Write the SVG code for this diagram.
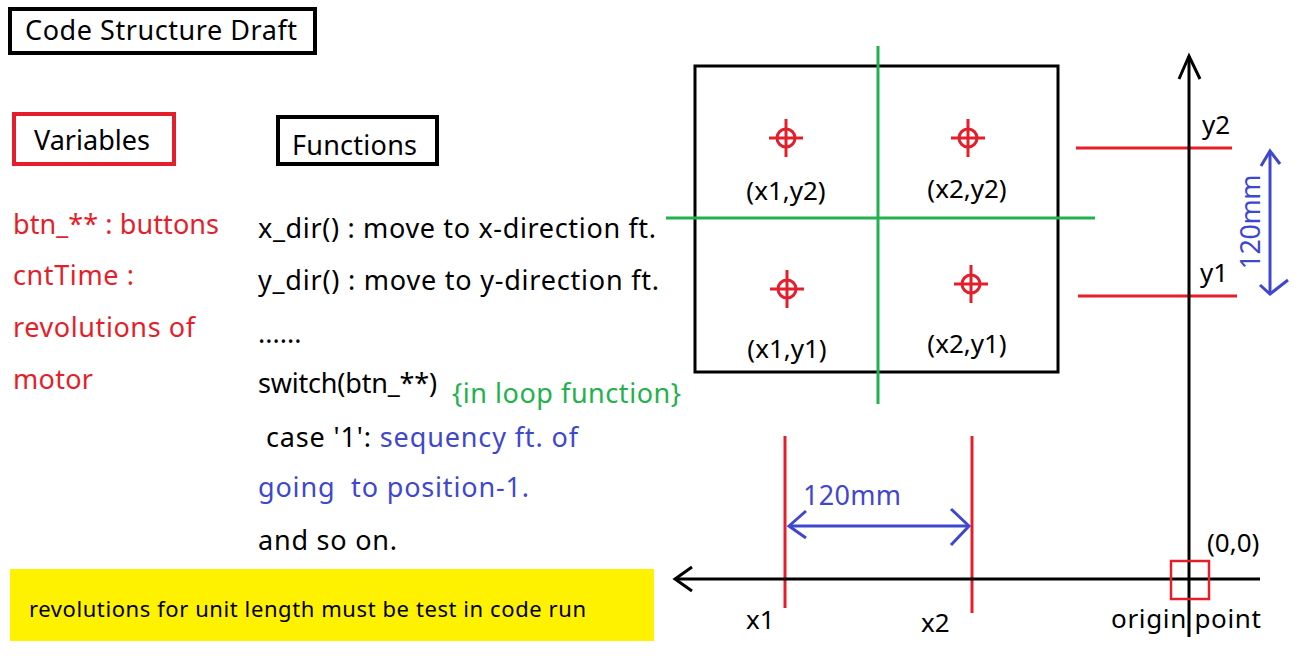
<svg xmlns="http://www.w3.org/2000/svg" width="1306" height="656" viewBox="0 0 1306 656">
<style>
text{font-family:"Noto Sans","Open Sans","DejaVu Sans",sans-serif;font-size:27px;fill:#000}
.red{fill:#E41E2B}
.blue{fill:#3F48CC}
.green{fill:#22B14C}
.ln{fill:none;stroke-width:3}
.k{stroke:#000}
.r{stroke:#E41E2B}
.g{stroke:#22B14C}
.b{stroke:#3F48CC}
.box{fill:#fff;stroke-width:4}
.lbl{font-size:26px}
</style>
<defs>
<g id="cross" class="ln r">
<circle cx="0" cy="0" r="9"/>
<line x1="-17" y1="0" x2="17" y2="0"/>
<line x1="0" y1="-19" x2="0" y2="19"/>
</g>
</defs>
<rect width="1306" height="656" fill="#fff"/>

<g id="title">
<rect class="box k" x="10" y="9" width="305" height="44"/>
<text x="25" y="40" textLength="272" lengthAdjust="spacing">Code Structure Draft</text>
</g>

<g id="variables">
<rect class="box r" x="14" y="114" width="160" height="50"/>
<text x="34" y="150" textLength="116" lengthAdjust="spacing">Variables</text>
<text class="red" x="13" y="234" textLength="206" lengthAdjust="spacing">btn_** : buttons</text>
<text class="red" x="13" y="285" textLength="121" lengthAdjust="spacing">cntTime :</text>
<text class="red" x="13" y="337" textLength="182" lengthAdjust="spacing">revolutions of</text>
<text class="red" x="13" y="389" textLength="80" lengthAdjust="spacing">motor</text>
</g>

<g id="functions">
<rect class="box k" x="278" y="117" width="159" height="47"/>
<text x="292" y="155" textLength="125" lengthAdjust="spacing">Functions</text>
<text x="258" y="238" textLength="398" lengthAdjust="spacing">x_dir() : move to x-direction ft.</text>
<text x="258" y="290" textLength="401" lengthAdjust="spacing">y_dir() : move to y-direction ft.</text>
<text x="258" y="343">......</text>
<text x="258" y="393" textLength="179" lengthAdjust="spacing">switch(btn_**)</text>
<text class="green" x="452" y="403" textLength="229" lengthAdjust="spacing">{in loop function}</text>
<text x="258" y="447" xml:space="preserve" textLength="320" lengthAdjust="spacing"> case '1': <tspan class="blue">sequency ft. of</tspan></text>
<text class="blue" x="258" y="497" xml:space="preserve" textLength="271" lengthAdjust="spacing">going  to position-1.</text>
<text x="258" y="550" textLength="139" lengthAdjust="spacing">and so on.</text>
</g>

<g id="note">
<rect x="10" y="569" width="644" height="72" fill="#FFF200"/>
<text x="29" y="617" style="font-size:22px" textLength="557" lengthAdjust="spacing">revolutions for unit length must be test in code run</text>
</g>

<g id="plate">
<rect class="ln k" x="695" y="66" width="363" height="306"/>
</g>

<g id="connectors">
<line class="ln g" x1="878" y1="46" x2="878" y2="404"/>
<line class="ln g" x1="666" y1="218" x2="1095" y2="218"/>
<line class="ln r" x1="1076" y1="148" x2="1232" y2="148"/>
<line class="ln r" x1="1078" y1="296" x2="1237" y2="296"/>
<line class="ln r" x1="785" y1="436" x2="785" y2="608"/>
<line class="ln r" x1="972" y1="436" x2="972" y2="613"/>
<line class="ln k" x1="1189" y1="56" x2="1189" y2="637"/>
<polyline class="ln k" points="1179,79 1189,56 1200,79"/>
<line class="ln k" x1="675" y1="579" x2="1260" y2="579"/>
<polyline class="ln k" points="692,567 675,579 692,591"/>
<line class="ln b" x1="1270" y1="151" x2="1270" y2="294"/>
<polyline class="ln b" points="1261,166 1270,151 1280,164"/>
<polyline class="ln b" points="1260,285 1270,294 1288,280"/>
<line class="ln b" x1="789" y1="526" x2="969" y2="526"/>
<polyline class="ln b" points="806,511 789,526 806,538"/>
<polyline class="ln b" points="951,509 969,526 951,545"/>
<rect class="ln r" x="1171" y="561" width="38" height="38" style="stroke-width:2.5"/>
</g>

<g id="p_x1y2"><use href="#cross" x="786" y="138"/><text class="lbl" x="786" y="200" text-anchor="middle">(x1,y2)</text></g>
<g id="p_x2y2"><use href="#cross" x="968" y="138"/><text class="lbl" x="967" y="198" text-anchor="middle">(x2,y2)</text></g>
<g id="p_x1y1"><use href="#cross" x="787" y="289"/><text class="lbl" x="787" y="358" text-anchor="middle">(x1,y1)</text></g>
<g id="p_x2y1"><use href="#cross" x="971" y="284"/><text class="lbl" x="967" y="353" text-anchor="middle">(x2,y1)</text></g>

<g id="labels">
<text class="lbl" x="1202" y="134">y2</text>
<text class="lbl" x="1200" y="282">y1</text>
<text class="blue" transform="translate(1260,222) rotate(-90)" text-anchor="middle" textLength="95" lengthAdjust="spacing">120mm</text>
<text class="blue" x="803" y="505" textLength="98" lengthAdjust="spacing">120mm</text>
<text class="lbl" x="1207" y="552">(0,0)</text>
<text class="lbl" x="746" y="629">x1</text>
<text class="lbl" x="921" y="632">x2</text>
<text class="lbl" x="1111" y="628" textLength="150" lengthAdjust="spacing">origin point</text>
</g>
</svg>
